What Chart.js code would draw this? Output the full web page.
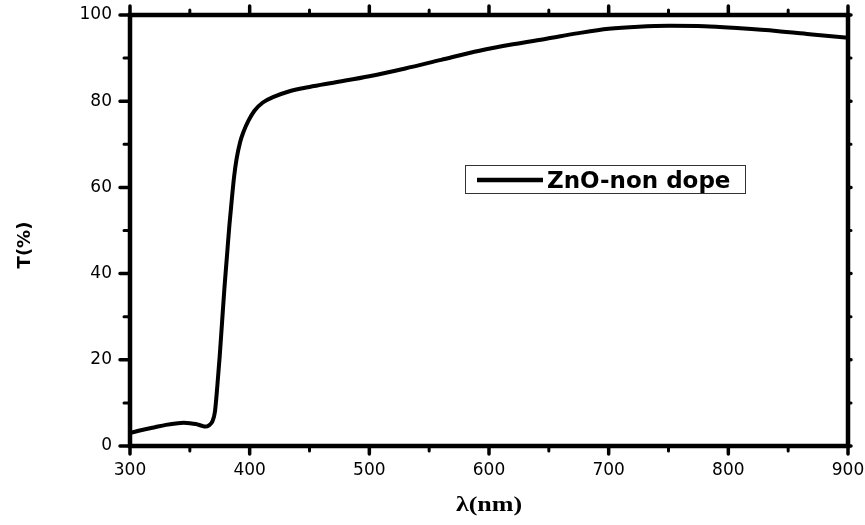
<!DOCTYPE html>
<html>
<head>
<meta charset="utf-8">
<script src="https://cdn.jsdelivr.net/npm/chart.js@4"></script>
<style>
html,body{margin:0;padding:0;background:#fff;}
#wrap{width:865px;height:525px;position:relative;}
</style>
</head>
<body>
<div id="wrap"><canvas id="c" width="865" height="525"></canvas></div>
<script>
// Data
const wavelength = [300,310,320,330,340,345,350,355,360,363,366,369,371,373,375,377,379,381,383,385,387,389,392,395,399,404,411,420,432,450,470,500,530,560,592,620,648,675,700,725,751,780,810,840,870,900];
const transmittance = [3.0,3.7,4.3,4.9,5.3,5.4,5.3,5.1,4.7,4.5,4.8,5.8,8,14,21,29,37,44,51,57,62.5,66.5,70.5,73,75.5,77.8,79.7,81.0,82.2,83.3,84.3,85.8,87.6,89.6,91.7,93.2,94.5,95.8,96.8,97.3,97.5,97.4,96.9,96.3,95.5,94.7];
const xTicks = [300,400,500,600,700,800,900];
const yTicks = [0,20,40,60,80,100];
const seriesName = 'ZnO-non dope';
const xTitle = 'λ(nm)';
const yTitle = 'T(%)';

const points = wavelength.map((w,i)=>({x:w,y:transmittance[i]}));

const framePlugin = {
  id:'frame',
  afterDraw(chart){
    const ctx = chart.ctx;
    const a = chart.chartArea;
    const xs = chart.scales.x, ys = chart.scales.y;
    ctx.save();
    ctx.strokeStyle = '#000';
    ctx.lineCap = 'round';
    // ticks
    const xMin = xTicks[0], xMax = xTicks[xTicks.length-1];
    for (let v = xMin; v <= xMax; v += 50) {
      const major = xTicks.includes(v);
      const px = xs.getPixelForValue(v);
      ctx.lineWidth = major ? 3.5 : 3;
      ctx.beginPath();
      ctx.moveTo(px, a.bottom); ctx.lineTo(px, a.bottom + (major ? 8 : 5));
      ctx.moveTo(px, a.top); ctx.lineTo(px, a.top - (major ? 9 : 5));
      ctx.stroke();
    }
    const yMin = yTicks[0], yMax = yTicks[yTicks.length-1];
    for (let v = yMin; v <= yMax; v += 10) {
      const major = yTicks.includes(v);
      const py = ys.getPixelForValue(v);
      ctx.lineWidth = major ? 3.5 : 3;
      ctx.beginPath();
      ctx.moveTo(a.left, py); ctx.lineTo(a.left - (major ? 10 : 6), py);
      ctx.moveTo(a.right, py); ctx.lineTo(a.right + 3, py);
      ctx.stroke();
    }
    // frame
    ctx.lineWidth = 4.5;
    ctx.lineCap = 'square';
    ctx.strokeRect(a.left, a.top, a.right - a.left, a.bottom - a.top);

    // legend
    const lx = 465, ly = 165, lw = 280, lh = 28;
    ctx.fillStyle = '#fff';
    ctx.fillRect(lx, ly, lw, lh);
    ctx.lineWidth = 1;
    ctx.strokeStyle = '#333';
    ctx.strokeRect(lx + 0.5, ly + 0.5, lw, lh);
    ctx.strokeStyle = '#000';
    ctx.lineWidth = 4.5;
    ctx.lineCap = 'butt';
    ctx.beginPath();
    ctx.moveTo(477, 180); ctx.lineTo(543, 180);
    ctx.stroke();
    ctx.fillStyle = '#000';
    ctx.font = 'bold 23px "DejaVu Sans"';
    ctx.textBaseline = 'alphabetic';
    ctx.textAlign = 'left';
    ctx.fillText(seriesName, 547, 188);

    // y title
    ctx.save();
    ctx.translate(25, 245);
    ctx.rotate(-Math.PI/2);
    ctx.font = 'bold 18px "DejaVu Sans"';
    ctx.textAlign = 'center';
    ctx.textBaseline = 'middle';
    ctx.fillText(yTitle, 0, 0);
    ctx.restore();
    // x title
    ctx.save();
    ctx.translate((a.left + a.right)/2, 506);
    ctx.scale(1.3, 1);
    ctx.font = 'bold 20px "Liberation Serif"';
    ctx.textAlign = 'center';
    ctx.textBaseline = 'middle';
    ctx.fillText(xTitle, 0, 0);
    ctx.restore();
    ctx.restore();
  }
};

new Chart(document.getElementById('c'), {
  type:'line',
  data:{
    datasets:[{
      label: seriesName,
      data: points,
      borderColor:'#000',
      borderWidth:4,
      pointRadius:0,
      fill:false,
      cubicInterpolationMode:'monotone'
    }]
  },
  options:{
    responsive:false,
    animation:false,
    layout:{padding:{top:15,right:17,left:0,bottom:0}},
    plugins:{legend:{display:false},tooltip:{enabled:false}},
    scales:{
      x:{
        type:'linear', min:300, max:900,
        afterBuildTicks(s){ s.ticks = xTicks.map(v=>({value:v})); },
        afterFit(s){ s.height = 79; s.paddingLeft = 0; s.paddingRight = 0; },
        grid:{display:false, drawTicks:false},
        border:{display:false},
        ticks:{color:'#000', padding:14, maxRotation:0, autoSkip:false, font:{family:'DejaVu Sans', size:17}}
      },
      y:{
        type:'linear', min:0, max:100,
        afterBuildTicks(s){ s.ticks = yTicks.map(v=>({value:v})); },
        afterFit(s){ s.width = 130; s.paddingTop = 0; s.paddingBottom = 0; },
        grid:{display:false, drawTicks:false},
        border:{display:false},
        ticks:{color:'#000', padding:18, font:{family:'DejaVu Sans', size:17}}
      }
    }
  },
  plugins:[framePlugin]
});
</script>
</body>
</html>
